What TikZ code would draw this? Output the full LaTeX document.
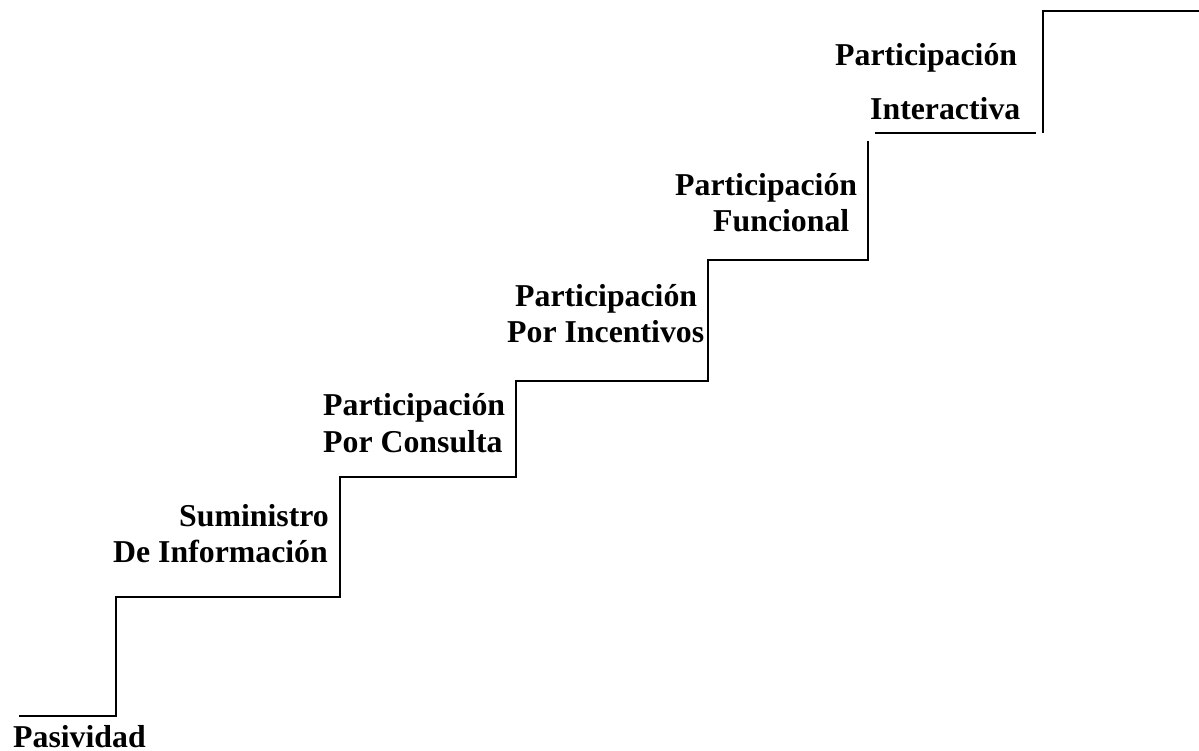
\documentclass[tikz,border=0pt]{standalone}
\usepackage{fontspec}
\setmainfont{Liberation Serif}
\begin{document}
\begin{tikzpicture}[x=1pt,y=-1pt,
  stair/.style={line width=2pt, line cap=butt, line join=miter},
  lbl/.style={font=\fontsize{31.8}{36}\selectfont\bfseries, inner sep=0pt, anchor=base west}]
\useasboundingbox (0,0) rectangle (1199,751);
% staircase
\draw[stair] (19,716) -- (116,716) -- (116,597) -- (340,597) -- (340,477)
  -- (516,477) -- (516,381) -- (708,381) -- (708,260) -- (868,260) -- (868,141);
\draw[stair] (875,133) -- (1036,133);
\draw[stair] (1043,133) -- (1043,11) -- (1199,11);
% labels
\node[lbl] (pas) at (13,747) {Pasividad};
\node[lbl] (sum1) at (179,526) {Suministro};
\node[lbl] (sum2) at (113,562) {De Información};
\node[lbl] (con1) at (323,415) {Participación};
\node[lbl] (con2) at (323,452) {Por Consulta};
\node[lbl] (inc1) at (515,306) {Participación};
\node[lbl] (inc2) at (507,342) {Por Incentivos};
\node[lbl] (fun1) at (675,196) {Participación};
\node[lbl] (fun2) at (713,232) {Funcional};
\node[lbl] (int1) at (835,66) {Participación};
\node[lbl] (int2) at (870,120) {Interactiva};
\end{tikzpicture}
\end{document}
